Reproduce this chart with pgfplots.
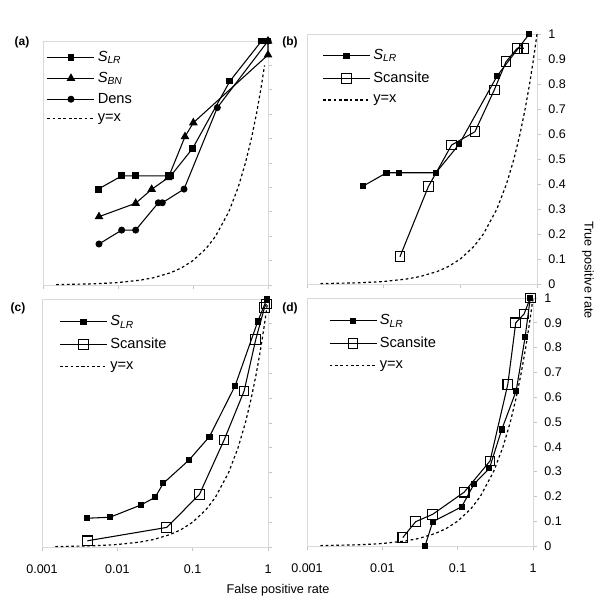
\documentclass[border=0pt]{standalone}
\usepackage{fontspec}
\setmainfont{Liberation Sans}
\usepackage{pgfplots}
\pgfplotsset{compat=1.18}

\newcommand{\Slr}{\textit{S}\textsubscript{\textit{LR}}}
\newcommand{\Sbn}{\textit{S}\textsubscript{\textit{BN}}}

\pgfplotsset{
  legend image code/.code={\draw[mark repeat=2,mark phase=2,#1] plot coordinates {(0cm,0cm) (0.62cm,0cm) (1.24cm,0cm)};},
  every axis plot/.append style={line width=0.8pt, black},
  every axis legend/.append style={draw=none, fill=none, font=\fontsize{11}{12}\selectfont, row sep=3.8pt, inner sep=1pt},
  every tick label/.append style={font=\fontsize{9.4}{11}\selectfont},
}
\tikzset{
  yeqx/.style={dash pattern=on 2pt off 2pt, line width=0.9pt, black},
  slrA/.style={mark=square*, mark size=2.2pt},
  sbn/.style={mark=triangle*, mark size=3pt},
  dens/.style={mark=*, mark size=2.2pt},
  slr/.style={mark=square*, mark size=1.9pt},
  scan/.style={mark=square, mark size=3.6pt},
}

\begin{document}
\begin{tikzpicture}
\path[use as bounding box] (0pt,0pt) rectangle (450pt,458.25pt);

% (a)
\begin{axis}[scale only axis, xmode=log, xmin=0.001, xmax=1, ymin=0, ymax=1,
  xtick={0.001,0.01,0.1,1}, xminorticks=false,
  ytick={0,0.1,0.2,0.3,0.4,0.5,0.6,0.7,0.8,0.9,1},
  xtick pos=left, ytick pos=right, tick align=outside, major tick length=3pt,
  axis line style={gray!30, line width=0.6pt}, major tick style={gray!45, line width=0.6pt},
  clip=false, xticklabel shift=7pt, yticklabel shift=2pt, legend cell align=left,
  at={(32.25pt,244.5pt)}, anchor=south west,
  width=168.75pt, height=183pt, xticklabels={}, yticklabels={},
  legend style={at={(0.01,0.975)}, anchor=north west, row sep=2.5pt}]
\addplot[slrA] coordinates {(0.00546,0.393) (0.0112,0.447) (0.0169,0.447) (0.0469,0.447) (0.0504,0.447) (0.099,0.560) (0.311,0.836) (0.82,1.0) (1.0,1.0)};
\addlegendentry{\Slr}
\addplot[sbn] coordinates {(0.00558,0.28) (0.0172,0.335) (0.0281,0.392) (0.0469,0.44) (0.0782,0.608) (0.101,0.665) (1.0,0.943) (1.0,1.0)};
\addlegendentry{\Sbn}
\addplot[dens] coordinates {(0.00558,0.168) (0.0112,0.225) (0.0172,0.225) (0.0345,0.337) (0.039,0.337) (0.0759,0.393) (0.211,0.727) (1.0,1.0)};
\addlegendentry{Dens}
\addplot[yeqx] coordinates {(0.0015,0.0015) (0.005,0.005) (0.01,0.01) (0.02,0.02) (0.03,0.03) (0.05,0.05) (0.07,0.07) (0.1,0.1) (0.15,0.15) (0.2,0.2) (0.3,0.3) (0.4,0.4) (0.5,0.5) (0.6,0.6) (0.7,0.7) (0.8,0.8) (0.9,0.9)};
\addlegendentry{y=x}
\end{axis}

% (b)
\begin{axis}[scale only axis, xmode=log, xmin=0.001, xmax=1, ymin=0, ymax=1,
  xtick={0.001,0.01,0.1,1}, xminorticks=false,
  ytick={0,0.1,0.2,0.3,0.4,0.5,0.6,0.7,0.8,0.9,1},
  xtick pos=left, ytick pos=right, tick align=outside, major tick length=3pt,
  axis line style={gray!30, line width=0.6pt}, major tick style={gray!45, line width=0.6pt},
  clip=false, xticklabel shift=7pt, yticklabel shift=2pt, legend cell align=left,
  at={(230.25pt,245.25pt)}, anchor=south west,
  width=172.5pt, height=187.5pt, xticklabels={},
  yticklabels={0,0.1,0.2,0.3,0.4,0.5,0.6,0.7,0.8,0.9,1},
  legend style={at={(0.06,0.955)}, anchor=north west}]
\addplot[slr] coordinates {(0.00542,0.392) (0.0109,0.445) (0.016,0.445) (0.048,0.445) (0.097,0.56) (0.303,0.833) (0.792,1.0)};
\addlegendentry{\Slr}
\addplot[scan] coordinates {(0.0163,0.109) (0.0382,0.389) (0.077,0.556) (0.155,0.609) (0.277,0.776) (0.394,0.889) (0.552,0.943) (0.674,0.943)};
\addlegendentry{Scansite}
\addplot[yeqx] coordinates {(0.0015,0.0015) (0.005,0.005) (0.01,0.01) (0.02,0.02) (0.03,0.03) (0.05,0.05) (0.07,0.07) (0.1,0.1) (0.15,0.15) (0.2,0.2) (0.3,0.3) (0.4,0.4) (0.5,0.5) (0.6,0.6) (0.7,0.7) (0.8,0.8) (0.9,0.9) (1,1)};
\addlegendentry{y=x}
\end{axis}

% (c)
\begin{axis}[scale only axis, xmode=log, xmin=0.001, xmax=1, ymin=0, ymax=1,
  xtick={0.001,0.01,0.1,1}, xminorticks=false,
  ytick={0,0.1,0.2,0.3,0.4,0.5,0.6,0.7,0.8,0.9,1},
  xtick pos=left, ytick pos=right, tick align=outside, major tick length=3pt,
  axis line style={gray!30, line width=0.6pt}, major tick style={gray!45, line width=0.6pt},
  clip=false, xticklabel shift=7pt, yticklabel shift=2pt, legend cell align=left,
  at={(31.5pt,48pt)}, anchor=south west,
  width=169.5pt, height=186pt, xticklabels={0.001,0.01,0.1,1}, yticklabels={},
  legend style={at={(0.07,0.95)}, anchor=north west}]
\addplot[slr] coordinates {(0.004,0.116) (0.008,0.12) (0.0204,0.169) (0.0317,0.2) (0.0408,0.257) (0.0896,0.351) (0.167,0.445) (0.366,0.65) (0.731,0.909) (0.965,1.0)};
\addlegendentry{\Slr}
\addplot[scan] coordinates {(0.004,0.025) (0.0453,0.079) (0.123,0.212) (0.261,0.431) (0.482,0.629) (0.688,0.837) (0.90,0.966) (0.95,0.98)};
\addlegendentry{Scansite}
\addplot[yeqx] coordinates {(0.0015,0.0015) (0.005,0.005) (0.01,0.01) (0.02,0.02) (0.03,0.03) (0.05,0.05) (0.07,0.07) (0.1,0.1) (0.15,0.15) (0.2,0.2) (0.3,0.3) (0.4,0.4) (0.5,0.5) (0.6,0.6) (0.7,0.7) (0.8,0.8) (0.9,0.9) (1,1)};
\addlegendentry{y=x}
\end{axis}

% (d)
\begin{axis}[scale only axis, xmode=log, xmin=0.001, xmax=1, ymin=0, ymax=1,
  xtick={0.001,0.01,0.1,1}, xminorticks=false,
  ytick={0,0.1,0.2,0.3,0.4,0.5,0.6,0.7,0.8,0.9,1},
  xtick pos=left, ytick pos=right, tick align=outside, major tick length=3pt,
  axis line style={gray!30, line width=0.6pt}, major tick style={gray!45, line width=0.6pt},
  clip=false, xticklabel shift=7pt, yticklabel shift=2pt, legend cell align=left,
  at={(230.25pt,48.75pt)}, anchor=south west,
  width=169.5pt, height=186pt, xticklabels={0.001,0.01,0.1,1},
  yticklabels={0,0.1,0.2,0.3,0.4,0.5,0.6,0.7,0.8,0.9,1},
  legend style={at={(0.09,0.95)}, anchor=north west}]
\addplot[slr] coordinates {(0.0369,0) (0.0467,0.098) (0.113,0.158) (0.165,0.25) (0.264,0.313) (0.385,0.47) (0.597,0.625) (0.785,0.841) (0.92,1.0)};
\addlegendentry{\Slr}
\addplot[scan] coordinates {(0.0187,0.034) (0.0277,0.098) (0.0467,0.128) (0.122,0.217) (0.269,0.343) (0.463,0.652) (0.59,0.90) (0.76,0.935) (0.92,1.0)};
\addlegendentry{Scansite}
\addplot[yeqx] coordinates {(0.0015,0.0015) (0.005,0.005) (0.01,0.01) (0.02,0.02) (0.03,0.03) (0.05,0.05) (0.07,0.07) (0.1,0.1) (0.15,0.15) (0.2,0.2) (0.3,0.3) (0.4,0.4) (0.5,0.5) (0.6,0.6) (0.7,0.7) (0.8,0.8) (0.9,0.9) (1,1)};
\addlegendentry{y=x}
\end{axis}

\node[font=\bfseries\fontsize{9}{10}\selectfont] at (16.5pt,426.75pt) {(a)};
\node[font=\bfseries\fontsize{9}{10}\selectfont] at (217.5pt,426.75pt) {(b)};
\node[font=\bfseries\fontsize{9}{10}\selectfont] at (13.5pt,227.25pt) {(c)};
\node[font=\bfseries\fontsize{9}{10}\selectfont] at (217.5pt,227.25pt) {(d)};
\node[font=\fontsize{9.5}{11}\selectfont] at (208.5pt,15.5pt) {False positive rate};
\node[font=\fontsize{9.5}{11}\selectfont, rotate=-90] at (441pt,255.75pt) {True positive rate};
\end{tikzpicture}
\end{document}
